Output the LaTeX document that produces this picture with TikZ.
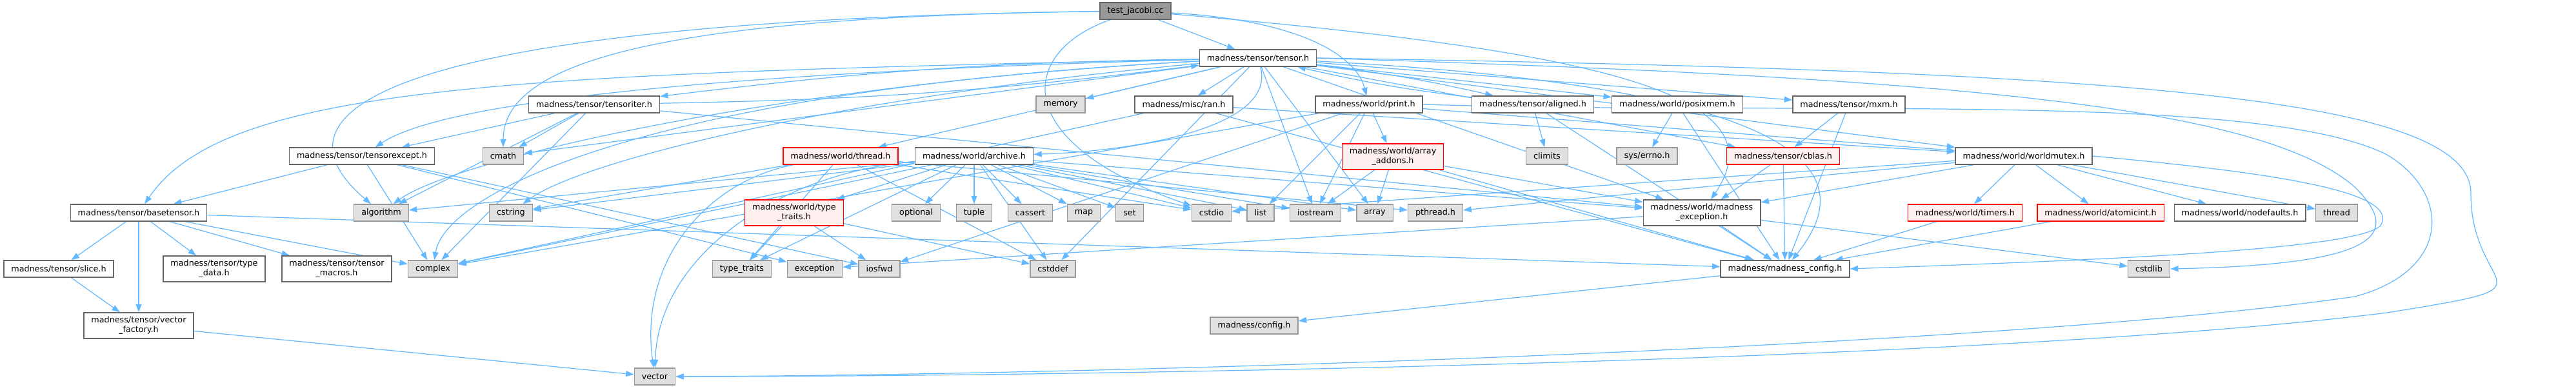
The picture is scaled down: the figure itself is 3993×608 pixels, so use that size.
\documentclass[tikz,border=0pt]{standalone}
\usepackage{fontspec}
\setmainfont{DejaVu Sans}
\usetikzlibrary{arrows.meta, backgrounds}
\definecolor{cEdge}{HTML}{63B8FF}
\definecolor{cBorder}{HTML}{666666}
\definecolor{cSysBorder}{HTML}{999999}
\definecolor{cSysFill}{HTML}{E0E0E0}
\definecolor{cRedFill}{HTML}{FFF0F0}
\definecolor{cRoot}{HTML}{999999}
\tikzset{
  basebox/.style={rectangle, draw=cBorder, line width=0.8pt, fill=white,
                  align=center, font=\fontsize{7.25}{8.6}\selectfont,
                  inner xsep=0.23cm, inner ysep=0.08cm, minimum height=0.52cm},
  filenode/.style={basebox},
  sysnode/.style={basebox, draw=cSysBorder, fill=cSysFill},
  rednode/.style={basebox, draw=red, fill=cRedFill},
  rootnode/.style={basebox, fill=cRoot},
  twoline/.style={minimum height=0.8cm},
  inclarrow/.style={-{Triangle[length=0.25cm, width=0.18cm]}, color=cEdge,
                    line width=0.7pt}
}
\begin{document}
\begin{tikzpicture}[x=0.02cm, y=-0.02cm]
  \useasboundingbox (0,0) rectangle (3993,608);

  % Root and first levels
  \node[rootnode] (root) at (1760,17) {test\_jacobi.cc};
  \node[filenode] (tensor) at (1950,90) {madness/tensor/tensor.h};

  \node[filenode] (tensoriter) at (921,162) {madness/tensor/tensoriter.h};
  \node[sysnode]  (memory)     at (1644,162) {memory};
  \node[filenode] (ran)        at (1835,162) {madness/misc/ran.h};
  \node[filenode] (print)      at (2122,162) {madness/world/print.h};
  \node[filenode] (aligned)    at (2376,162) {madness/tensor/aligned.h};
  \node[filenode] (posixmem)   at (2600,162) {madness/world/posixmem.h};
  \node[filenode] (mxm)        at (2866,162) {madness/tensor/mxm.h};

  \node[filenode] (tensorexcept) at (561,242) {madness/tensor/tensorexcept.h};
  \node[sysnode]  (cmath)        at (780,242) {cmath};
  \node[rednode]  (threadh)      at (1303,242) {madness/world/thread.h};
  \node[filenode] (archive)      at (1510,242) {madness/world/archive.h};
  \node[rednode, twoline] (arrayaddons) at (2159,243) {madness/world/array\\\_addons.h};
  \node[sysnode]  (climits)      at (2398,242) {climits};
  \node[sysnode]  (errno)        at (2553,242) {sys/errno.h};
  \node[rednode]  (cblas)        at (2764,242) {madness/tensor/cblas.h};
  \node[filenode] (worldmutex)   at (3137,242) {madness/world/worldmutex.h};

  % Row of headers under archive and worldmutex
  \node[filenode] (basetensor) at (215,330) {madness/tensor/basetensor.h};
  \node[sysnode]  (algorithm)  at (591,330) {algorithm};
  \node[sysnode]  (cstring)    at (792,330) {cstring};
  \node[rednode, twoline] (typetraitsh) at (1231,330) {madness/world/type\\\_traits.h};
  \node[sysnode]  (optional)   at (1420,330) {optional};
  \node[sysnode]  (tuple)      at (1510,330) {tuple};
  \node[sysnode]  (cassert)    at (1597,330) {cassert};
  \node[sysnode]  (map)        at (1680,330) {map};
  \node[sysnode]  (set)        at (1751,330) {set};
  \node[sysnode]  (cstdio)     at (1878,330) {cstdio};
  \node[sysnode]  (list)       at (1954,330) {list};
  \node[sysnode]  (iostream)   at (2039,330) {iostream};
  \node[sysnode]  (array)      at (2131,330) {array};
  \node[sysnode]  (pthread)    at (2225,330) {pthread.h};
  \node[filenode, twoline] (madexc) at (2638,330) {madness/world/madness\\\_exception.h};
  \node[rednode]  (timers)     at (3046,330) {madness/world/timers.h};
  \node[rednode]  (atomicint)  at (3256,330) {madness/world/atomicint.h};
  \node[filenode] (nodefaults) at (3472,330) {madness/world/nodefaults.h};
  \node[sysnode]  (stdthread)  at (3622,330) {thread};

  \node[filenode] (slice)        at (91,417) {madness/tensor/slice.h};
  \node[filenode, twoline] (typedata) at (332,417) {madness/tensor/type\\\_data.h};
  \node[filenode, twoline] (tensormacros) at (522,417) {madness/tensor/tensor\\\_macros.h};
  \node[sysnode]  (complex)      at (671,417) {complex};
  \node[sysnode]  (typetraits)   at (1150,417) {type\_traits};
  \node[sysnode]  (exception)    at (1263,417) {exception};
  \node[sysnode]  (iosfwd)       at (1363,417) {iosfwd};
  \node[sysnode]  (cstddef)      at (1632,417) {cstddef};
  \node[filenode] (madconfig)    at (2767,417) {madness/madness\_config.h};
  \node[sysnode]  (cstdlib)      at (3331,417) {cstdlib};

  \node[filenode, twoline] (vectorfactory) at (215,505) {madness/tensor/vector\\\_factory.h};
  \node[sysnode]  (config)       at (1944,505) {madness/config.h};
  \node[sysnode]  (vector)       at (1015,584) {vector};

  \begin{pgfonlayer}{background}
  % test_jacobi.cc
  \draw[inclarrow] (root) -- (tensor);
  \draw[inclarrow] (root) .. controls (2000,30) and (2100,80) .. (print);
  \draw[inclarrow] (root) .. controls (1580,80) and (1560,220) .. (cstdio);
  \draw[inclarrow] (root) .. controls (1100,25) and (780,80) .. (cmath);
  \draw[inclarrow] (root) .. controls (700,30) and (380,150) .. (algorithm);
  \draw[inclarrow] (root) .. controls (2500,80) and (2760,150) .. (madexc);

  % tensor.h
  \draw[inclarrow] (tensor) to[bend right=3] (tensoriter);
  \draw[inclarrow] (tensoriter) to[bend right=3] (tensor);
  \draw[inclarrow] (tensor) -- (memory);
  \draw[inclarrow] (tensor) -- (ran);
  \draw[inclarrow] (tensor) -- (threadh);
  \draw[inclarrow] (tensor) .. controls (1980,200) and (1750,235) .. (archive);
  \draw[inclarrow] (tensor) .. controls (800,115) and (350,130) .. (basetensor);
  \draw[inclarrow] (tensor) .. controls (1200,110) and (700,150) .. (tensorexcept);
  \draw[inclarrow] (tensor) -- (cmath);
  \draw[inclarrow] (tensor) .. controls (1000,140) and (690,300) .. (complex);
  \draw[inclarrow] (tensor) .. controls (1300,150) and (900,250) .. (cstring);
  \draw[inclarrow] (tensor) .. controls (1200,130) and (700,250) .. (algorithm);
  \draw[inclarrow] (tensor) to[bend left=3] (aligned);
  \draw[inclarrow] (aligned) to[bend left=3] (tensor);
  \draw[inclarrow] (tensor) -- (posixmem);
  \draw[inclarrow] (tensor) -- (mxm);
  \draw[inclarrow] (tensor) -- (worldmutex);
  \draw[inclarrow] (tensor) -- (cblas);
  \draw[inclarrow] (tensor) -- (madexc);
  \draw[inclarrow] (tensor) .. controls (2900,140) and (2860,300) .. (madconfig);
  \draw[inclarrow] (tensor) -- (cstddef);
  \draw[inclarrow] (tensor) -- (array);
  \draw[inclarrow] (tensor) -- (iostream);
  \draw[inclarrow] (tensor.east) .. controls (3300,110) and (3830,150) .. (3830,300)
      .. controls (3830,460) and (3980,440) .. (3700,485)
      .. controls (3100,560) and (1700,584) .. (vector.east);
  \draw[inclarrow] (tensor.east) .. controls (3000,120) and (3500,160) .. (3650,290)
      .. controls (3720,360) and (3700,410) .. (cstdlib.east);

  % tensor sub-headers
  \draw[inclarrow] (tensoriter) -- (tensorexcept);
  \draw[inclarrow] (tensoriter) -- (cmath);
  \draw[inclarrow] (tensoriter) -- (algorithm);
  \draw[inclarrow] (tensoriter) -- (complex);
  \draw[inclarrow] (tensoriter) -- (madexc);
  \draw[inclarrow] (tensorexcept) -- (basetensor);
  \draw[inclarrow] (tensorexcept) -- (complex);
  \draw[inclarrow] (tensorexcept) -- (exception);
  \draw[inclarrow] (tensorexcept) -- (iosfwd);
  \draw[inclarrow] (basetensor) -- (slice);
  \draw[inclarrow] (basetensor) -- (vectorfactory);
  \draw[inclarrow] (basetensor) -- (typedata);
  \draw[inclarrow] (basetensor) -- (tensormacros);
  \draw[inclarrow] (basetensor) -- (complex);
  \draw[inclarrow] (basetensor) -- (madconfig);
  \draw[inclarrow] (slice) -- (vectorfactory);
  \draw[inclarrow] (vectorfactory) -- (vector);
  \draw[inclarrow] (aligned) -- (climits);
  \draw[inclarrow] (aligned) -- (madconfig);
  \draw[inclarrow] (posixmem) -- (errno);
  \draw[inclarrow] (posixmem) -- (madconfig);
  \draw[inclarrow] (mxm) -- (cblas);
  \draw[inclarrow] (mxm) -- (madconfig);
  \draw[inclarrow] (cblas) -- (madexc);
  \draw[inclarrow] (cblas) -- (madconfig);

  % misc/ran.h and print.h
  \draw[inclarrow] (ran) -- (complex);
  \draw[inclarrow] (ran) -- (worldmutex);
  \draw[inclarrow] (ran) -- (madconfig);
  \draw[inclarrow] (print) -- (arrayaddons);
  \draw[inclarrow] (print) -- (list);
  \draw[inclarrow] (print) -- (iostream);
  \draw[inclarrow] (print) -- (complex);
  \draw[inclarrow] (print) -- (worldmutex);
  \draw[inclarrow] (print) -- (iosfwd);
  \draw[inclarrow] (print.east) .. controls (2800,180) and (3500,140) .. (3700,240)
      .. controls (3800,300) and (3800,420) .. (3650,460)
      .. controls (3100,540) and (1700,582) .. (vector.east);
  \draw[inclarrow] (arrayaddons) -- (iostream);
  \draw[inclarrow] (arrayaddons) -- (array);
  \draw[inclarrow] (arrayaddons) -- (madexc);
  \draw[inclarrow] (arrayaddons) -- (madconfig);

  % thread.h, type_traits.h, archive.h
  \draw[inclarrow] (threadh) -- (cstring);
  \draw[inclarrow] (threadh) -- (typetraits);
  \draw[inclarrow] (threadh) -- (cstddef);
  \draw[inclarrow] (threadh) .. controls (1100,280) and (990,400) .. (vector);
  \draw[inclarrow] (threadh) -- (pthread);
  \draw[inclarrow] (threadh) -- (cstdio);
  \draw[inclarrow] (typetraitsh) -- (typetraits);
  \draw[inclarrow] (typetraitsh) -- (iosfwd);
  \draw[inclarrow] (typetraitsh) -- (cstddef);
  \draw[inclarrow] (archive) -- (typetraitsh);
  \draw[inclarrow] (archive) -- (optional);
  \draw[inclarrow] (archive) -- (tuple);
  \draw[inclarrow] (archive) -- (cassert);
  \draw[inclarrow] (archive) -- (map);
  \draw[inclarrow] (archive) -- (set);
  \draw[inclarrow] (archive) -- (cstdio);
  \draw[inclarrow] (archive) -- (list);
  \draw[inclarrow] (archive) -- (iostream);
  \draw[inclarrow] (archive) -- (array);
  \draw[inclarrow] (archive) -- (madexc);
  \draw[inclarrow] (archive) -- (cstring);
  \draw[inclarrow] (archive) -- (cstddef);
  \draw[inclarrow] (archive) .. controls (1200,270) and (1020,400) .. (vector);
  \draw[inclarrow] (archive) -- (complex);
  \draw[inclarrow] (archive) -- (typetraits);
  \draw[inclarrow] (archive) -- (algorithm);

  % worldmutex.h and below
  \draw[inclarrow] (worldmutex) -- (madexc);
  \draw[inclarrow] (worldmutex) -- (pthread);
  \draw[inclarrow] (worldmutex) -- (cstdio);
  \draw[inclarrow] (worldmutex) -- (timers);
  \draw[inclarrow] (worldmutex) -- (atomicint);
  \draw[inclarrow] (worldmutex) -- (nodefaults);
  \draw[inclarrow] (worldmutex) -- (stdthread);
  \draw[inclarrow] (worldmutex.east) .. controls (3550,270) and (3720,300) .. (3690,350)
      .. controls (3650,390) and (3200,405) .. (madconfig.east);
  \draw[inclarrow] (timers) -- (madconfig);
  \draw[inclarrow] (atomicint) -- (madconfig);
  \draw[inclarrow] (madexc) -- (madconfig);
  \draw[inclarrow] (madexc) -- (exception);
  \draw[inclarrow] (madexc) -- (cstdlib);
  \draw[inclarrow] (madconfig) -- (config);
  \end{pgfonlayer}

\end{tikzpicture}
\end{document}
